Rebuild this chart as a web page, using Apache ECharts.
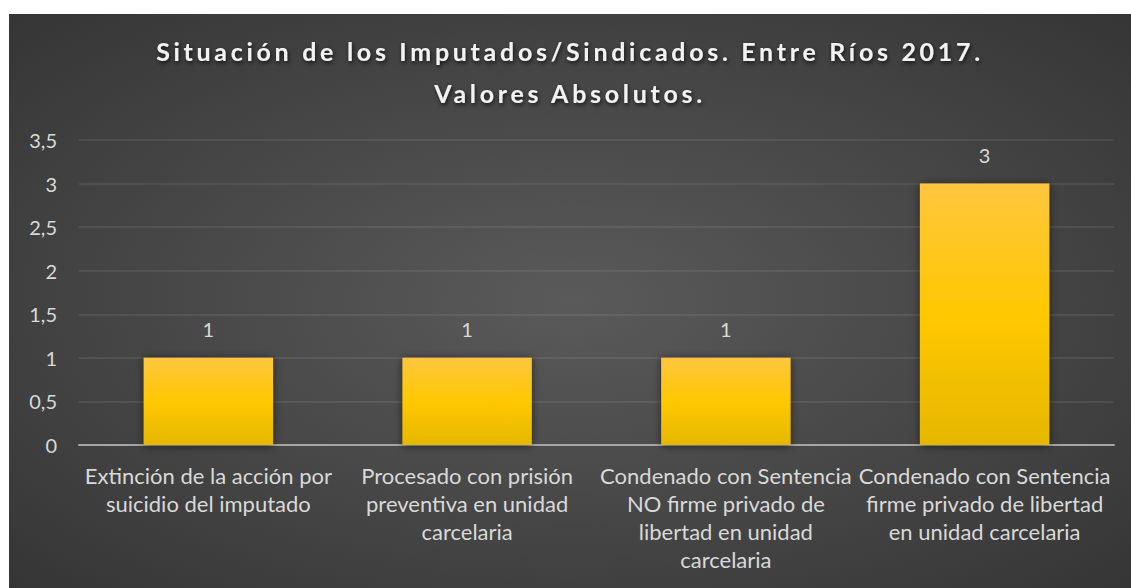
<!DOCTYPE html>
<html>
<head>
<meta charset="utf-8">
<script src="https://cdn.jsdelivr.net/npm/echarts@6/dist/echarts.min.js"></script>
<style>
  html, body { margin: 0; padding: 0; background: #ffffff; }
  #chart { position: absolute; left: 9px; top: 14px; width: 1122px; height: 574px; }
  /* el título de Excel va con letras espaciadas */
  #chart text[style*="bold"] { letter-spacing: 3.7px; }
</style>
</head>
<body>
<div id="chart"></div>
<script>
// categorías (eje X)
var categorias = [
  'Extinción de la acción por\nsuicidio del imputado',
  'Procesado con prisión\npreventiva en unidad\ncarcelaria',
  'Condenado con Sentencia\nNO firme privado de\nlibertad en unidad\ncarcelaria',
  'Condenado con Sentencia\nfirme privado de libertad\nen unidad carcelaria'
];
// valores absolutos
var valores = [1, 1, 1, 3];
// eje Y
var yMin = 0;
var yMax = 3.5;
var yPaso = 0.5;

var titulo = 'Situación de los Imputados/Sindicados. Entre Ríos 2017.\nValores Absolutos.';

var myChart = echarts.init(document.getElementById('chart'), null, { renderer: 'svg' });

myChart.setOption({
  backgroundColor: new echarts.graphic.RadialGradient(0.5, 0.5, 1.0, [
    { offset: 0, color: '#5a5a5a' },
    { offset: 1, color: '#262626' }
  ]),
  animation: false,
  title: {
    text: titulo,
    left: 'center',
    top: 16,
    padding: [0, 0, 0, 10],
    textStyle: {
      fontFamily: 'Lato',
      fontWeight: 'bold',
      fontSize: 25,
      lineHeight: 42,
      color: '#f2f2f2',
      textShadowColor: 'rgba(0,0,0,0.75)',
      textShadowBlur: 4,
      textShadowOffsetX: 1,
      textShadowOffsetY: 2
    }
  },
  grid: {
    left: 70,
    right: 17,
    top: 126,
    bottom: 143,
    containLabel: false
  },
  xAxis: {
    type: 'category',
    data: categorias,
    axisTick: { show: false },
    axisLine: { lineStyle: { color: '#a6a6a6', width: 2 } },
    axisLabel: {
      interval: 0,
      margin: 16,
      fontFamily: 'Lato',
      fontSize: 22,
      lineHeight: 28,
      color: '#d9d9d9'
    }
  },
  yAxis: {
    type: 'value',
    min: yMin,
    max: yMax,
    interval: yPaso,
    axisLine: { show: false },
    axisTick: { show: false },
    splitLine: { lineStyle: { color: 'rgba(255,255,255,0.1)', width: 1.5 } },
    axisLabel: {
      margin: 22,
      fontFamily: 'Lato',
      fontSize: 20,
      color: '#d9d9d9',
      formatter: function (v) { return String(v).replace('.', ','); }
    }
  },
  series: [{
    type: 'bar',
    data: valores,
    barWidth: '50%',
    itemStyle: {
      color: new echarts.graphic.LinearGradient(0, 0, 0, 1, [
        { offset: 0, color: '#ffc63f' },
        { offset: 0.5, color: '#ffc800' },
        { offset: 1, color: '#e6b700' }
      ]),
      shadowColor: 'rgba(0,0,0,0.55)',
      shadowBlur: 8,
      shadowOffsetX: 0,
      shadowOffsetY: 1
    },
    label: {
      show: true,
      position: 'top',
      distance: 19,
      fontFamily: 'Lato',
      fontSize: 20,
      color: '#d9d9d9'
    }
  }]
});
</script>
</body>
</html>
